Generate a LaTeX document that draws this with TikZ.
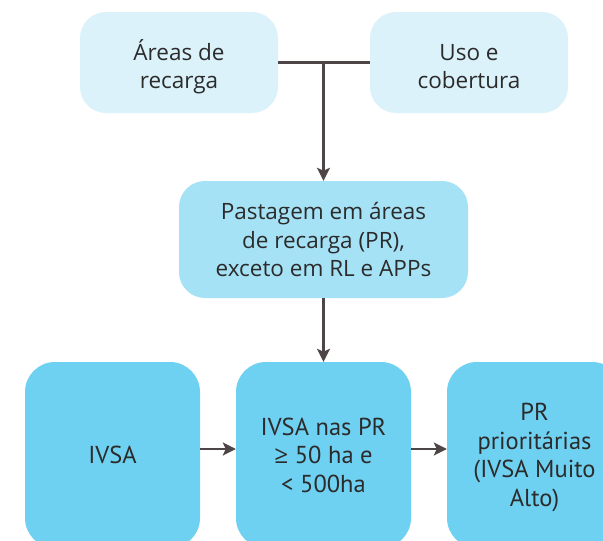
\documentclass[tikz,border=0pt]{standalone}
\usepackage{fontspec}
\setmainfont{Open Sans}
\newfontfamily\ptsans{PT Sans}
\usetikzlibrary{arrows.meta}

\begin{document}
\begin{tikzpicture}[x=1pt, y=-1pt]
    \definecolor{arrowColour}{HTML}{4D4546}
    \definecolor{textColour}{HTML}{2B2B2B}
    \definecolor{fillColourTop}{HTML}{DBF2FA}
    \definecolor{fillColourMid}{HTML}{A6E2F6}
    \definecolor{fillColourLow}{HTML}{6FD1F1}

    \tikzset{
        topbox/.style={fill=fillColourTop, rounded corners=26pt, minimum width=198pt, minimum height=101pt,
            align=center, text=textColour, font=\fontsize{22.5}{28.5}\selectfont,
            text height=56pt, text depth=4pt},
        midbox/.style={topbox, fill=fillColourMid, minimum width=289pt, minimum height=117pt,
            text height=, text depth=},
        lowbox/.style={fill=fillColourLow, rounded corners=30pt, minimum width=175pt, minimum height=186pt,
            align=center, text=textColour, font=\ptsans\fontsize{24.5}{28.5}\selectfont},
        seta/.style={draw=arrowColour, line width=2.5pt, -{Stealth[length=13pt, width=13pt, inset=3pt]}},
        linha/.style={draw=arrowColour, line width=2.5pt}
    }

    % Frame of the figure
    \useasboundingbox (0,0) rectangle (603,541);
    \clip (0,0) rectangle (603,541);

    % Top row
    \node[topbox] (areas) at (179,62.5) {Áreas de\\recarga};
    \node[topbox] (uso) at (469,62.5) {Uso e\\cobertura};

    % Middle box
    \node[midbox] (pastagem) at (323.5,239.5) {Pastagem em áreas\\de recarga (PR),\\exceto em RL e APPs};

    % Bottom row
    \node[lowbox] (ivsa) at (112.5,455) {IVSA};
    \node[lowbox] (nasPR) at (323.5,455) {IVSA nas PR\\{\rmfamily ≥} 50 ha e\\< 500ha};
    \node[lowbox, text depth=0pt] (prior) at (534.5,455) {PR\\prioritárias\\(IVSA Muito\\Alto)};

    % Connectors
    \coordinate (junc) at (areas.east -| pastagem.north);
    \draw[linha] (areas.east) -- (uso.west);
    \draw[seta] (junc) -- (pastagem.north);
    \draw[seta] (pastagem.south) -- (nasPR.north);
    \draw[seta] ([yshift=6pt]ivsa.east) -- ([yshift=6pt]nasPR.west);
    \draw[seta] ([yshift=6pt]nasPR.east) -- ([yshift=6pt]prior.west);

\end{tikzpicture}
\end{document}
